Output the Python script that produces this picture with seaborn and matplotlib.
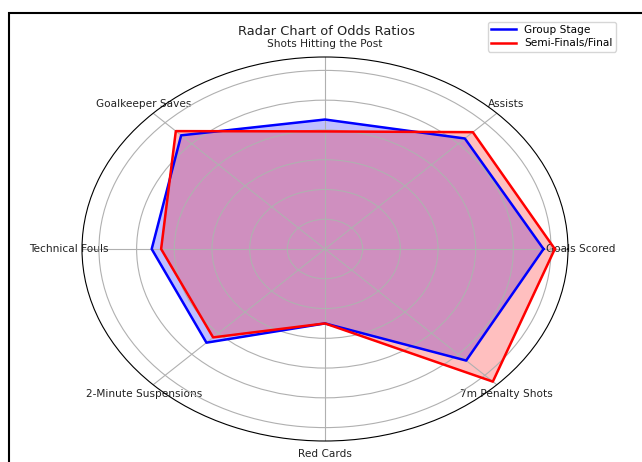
import numpy as np
import matplotlib
matplotlib.use("Agg")
import matplotlib.pyplot as plt
from matplotlib.patches import Rectangle
import seaborn as sns


# ==============================
# DATA
# ==============================

categories = [
    "Goals Scored",
    "Assists",
    "Shots Hitting the Post",
    "Goalkeeper Saves",
    "Technical Fouls",
    "2-Minute Suspensions",
    "Red Cards",
    "7m Penalty Shots",
]

group_stage = [1.16, 1.05, 0.87, 1.08, 0.92, 0.89, 0.50, 1.06]
semi_final = [1.22, 1.11, 0.79, 1.12, 0.87, 0.84, 0.50, 1.26]

radial_ticks = [0.2, 0.4, 0.6, 0.8, 1.0, 1.2]
r_max = 1.29


# ==============================
# RADAR CHART
# ==============================

def close_loop(values):
    return list(values) + [values[0]]


angles = np.linspace(0, 2 * np.pi, len(categories), endpoint=False)
angles_closed = close_loop(angles)

fig = plt.figure(figsize=(6.42, 4.62), dpi=100)

ax = fig.add_axes(
    [82 / 642, 21 / 462, 486 / 642, 384 / 462],
    projection="polar"
)
ax.set_aspect("auto")

series = [
    ("Group Stage", group_stage, "blue"),
    ("Semi-Finals/Final", semi_final, "red"),
]

for name, values, color in series:

    sns.lineplot(
        x=angles_closed,
        y=close_loop(values),
        ax=ax,
        sort=False,
        estimator=None,
        color=color,
        linewidth=1.8,
        label=name
    )

    ax.fill(
        angles_closed,
        close_loop(values),
        color=color,
        alpha=0.25
    )

ax.set_xticks(angles)
ax.set_xticklabels(categories, fontsize=7.6, color="#222222")
ax.tick_params(axis="x", pad=-1)

ax.set_ylim(0, r_max)
ax.set_yticks(radial_ticks)
ax.set_yticklabels([])

ax.set_xlabel("")
ax.set_ylabel("")

fig.text(
    0.508, 0.931,
    "Radar Chart of Odds Ratios",
    ha="center",
    va="center",
    fontsize=9.4,
    color="#222222"
)

ax.legend(
    loc="upper right",
    bbox_to_anchor=(616 / 642, 1 - 22 / 462),
    bbox_transform=fig.transFigure,
    borderaxespad=0,
    fontsize=7.6,
    handlelength=2.4,
    labelspacing=0.3,
    borderpad=0.3
)

# screenshot frame
fig.patches.append(
    Rectangle(
        (9 / 642, -0.1), 1.2, 1 - 13 / 462 + 0.1,
        transform=fig.transFigure,
        fill=False,
        edgecolor="black",
        linewidth=1.5
    )
)

fig.savefig("out.png", dpi=100)
